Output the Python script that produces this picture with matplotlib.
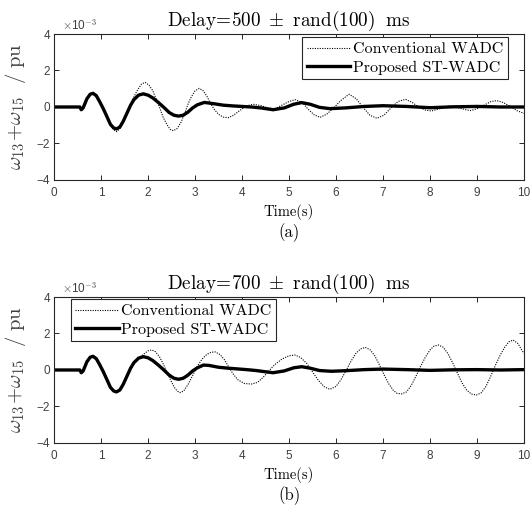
import matplotlib
matplotlib.use("Agg")
import matplotlib.pyplot as plt

plt.rcParams["mathtext.fontset"] = "cm"
plt.rcParams["font.family"] = ["Liberation Sans", "DejaVu Sans"]

# values, in units of 1e-3 pu
TIME_A_PROP = [0, 0.55, 0.58, 0.62, 0.7, 0.77, 0.83, 0.9, 0.97, 1.05, 1.13, 1.2, 1.27,
               1.33, 1.4, 1.47, 1.55, 1.63, 1.7, 1.8, 1.9, 2.0, 2.1, 2.22, 2.35, 2.45,
               2.55, 2.65, 2.75, 2.85, 2.95, 3.05, 3.2, 3.4, 3.6, 3.8, 4.0, 4.2, 4.4,
               4.66, 4.9, 5.1, 5.27, 5.45, 5.65, 5.87, 6.2, 6.6, 7.0, 7.5, 8.0, 8.5,
               9.0, 9.5, 10]
VALUE_A_PROP = [0, 0, -0.15, -0.05, 0.45, 0.7, 0.75, 0.62, 0.3, -0.1, -0.55, -0.95, -1.15,
                -1.2, -1.1, -0.8, -0.35, 0.1, 0.4, 0.65, 0.72, 0.65, 0.5, 0.25, -0.05, -0.3,
                -0.45, -0.5, -0.45, -0.28, -0.05, 0.12, 0.25, 0.18, 0.1, 0.06, 0.03, 0.0, -0.05,
                -0.15, -0.05, 0.15, 0.24, 0.15, -0.02, -0.09, -0.05, 0.03, 0.07, 0.03, -0.04, 0.01,
                0.03, 0.0, 0.0]

TIME_A_CONV = [0, 0.55, 0.58, 0.62, 0.7, 0.77, 0.83, 0.9, 0.97, 1.05, 1.13, 1.2, 1.27,
               1.33, 1.4, 1.47, 1.55, 1.63, 1.7, 1.78, 1.86, 1.94, 2.02, 2.1, 2.18, 2.25,
               2.32, 2.4, 2.47, 2.54, 2.62, 2.7, 2.78, 2.85, 2.92, 3.0, 3.09, 3.17, 3.25,
               3.33, 3.4, 3.5, 3.6, 3.71, 3.82, 3.95, 4.08, 4.24, 4.4, 4.55, 4.7, 4.85,
               5.0, 5.13, 5.28, 5.4, 5.53, 5.66, 5.8, 5.95, 6.1, 6.28, 6.43, 6.57, 6.72,
               6.87, 7.02, 7.17, 7.32, 7.48, 7.62, 7.76, 7.9, 8.03, 8.2, 8.4, 8.6, 8.85,
               9.0, 9.15, 9.3, 9.42, 9.55, 9.7, 9.85, 10]
VALUE_A_CONV = [0, 0, -0.15, -0.05, 0.45, 0.7, 0.75, 0.62, 0.3, -0.1, -0.6, -1.0, -1.25,
                -1.35, -1.2, -0.85, -0.35, 0.15, 0.55, 0.95, 1.25, 1.35, 1.2, 0.9, 0.4, -0.05,
                -0.55, -0.95, -1.22, -1.3, -1.18, -0.85, -0.35, 0.15, 0.55, 0.88, 1.02, 0.9, 0.6,
                0.2, -0.1, -0.4, -0.55, -0.59, -0.45, -0.2, 0.05, 0.15, 0.08, -0.05, -0.1, 0.1,
                0.3, 0.4, 0.25, -0.1, -0.42, -0.57, -0.4, -0.05, 0.35, 0.7, 0.45, 0.0, -0.45,
                -0.62, -0.45, -0.05, 0.3, 0.42, 0.25, 0.0, -0.17, -0.22, -0.1, 0.05, -0.05, -0.2,
                -0.1, 0.1, 0.3, 0.35, 0.25, 0.05, -0.2, -0.35]

TIME_B_PROP = [0, 0.55, 0.58, 0.62, 0.7, 0.77, 0.83, 0.9, 0.97, 1.05, 1.13, 1.2, 1.27,
               1.33, 1.4, 1.47, 1.55, 1.63, 1.7, 1.8, 1.9, 2.0, 2.1, 2.22, 2.35, 2.45,
               2.55, 2.65, 2.75, 2.85, 2.95, 3.05, 3.18, 3.3, 3.5, 3.7, 3.9, 4.1, 4.3,
               4.66, 4.9, 5.1, 5.27, 5.45, 5.65, 5.9, 6.2, 6.6, 7.0, 7.5, 8.0, 8.5,
               9.0, 9.5, 10]
VALUE_B_PROP = [0, 0, -0.15, -0.05, 0.45, 0.7, 0.75, 0.62, 0.3, -0.1, -0.55, -0.95, -1.15,
                -1.2, -1.1, -0.8, -0.35, 0.1, 0.4, 0.65, 0.73, 0.67, 0.52, 0.27, -0.03, -0.28,
                -0.45, -0.51, -0.45, -0.28, -0.05, 0.12, 0.27, 0.25, 0.15, 0.1, 0.06, 0.02, -0.03,
                -0.15, -0.05, 0.12, 0.18, 0.1, -0.03, -0.07, -0.04, 0.02, 0.05, 0.02, -0.02, 0.01,
                0.02, 0.0, 0.02]

TIME_B_CONV = [0, 0.55, 0.58, 0.62, 0.7, 0.77, 0.83, 0.9, 0.97, 1.05, 1.13, 1.2, 1.27,
               1.33, 1.4, 1.47, 1.55, 1.63, 1.7, 1.8, 1.9, 2.0, 2.08, 2.16, 2.25, 2.33,
               2.4, 2.48, 2.56, 2.62, 2.68, 2.76, 2.85, 2.95, 3.05, 3.15, 3.25, 3.34, 3.43,
               3.53, 3.63, 3.72, 3.82, 3.92, 4.05, 4.2, 4.33, 4.45, 4.57, 4.7, 4.85, 5.0,
               5.13, 5.25, 5.38, 5.5, 5.62, 5.75, 5.87, 6.0, 6.1, 6.2, 6.3, 6.42, 6.52,
               6.62, 6.72, 6.82, 6.92, 7.02, 7.12, 7.22, 7.3, 7.4, 7.5, 7.6, 7.7, 7.8,
               7.9, 8.0, 8.08, 8.18, 8.28, 8.38, 8.48, 8.58, 8.68, 8.78, 8.88, 8.99, 9.09,
               9.19, 9.29, 9.39, 9.49, 9.59, 9.68, 9.77, 9.87, 9.95, 10]
VALUE_B_CONV = [0, 0, -0.15, -0.05, 0.45, 0.7, 0.75, 0.62, 0.3, -0.1, -0.55, -0.95, -1.15,
                -1.2, -1.1, -0.8, -0.35, 0.1, 0.4, 0.65, 0.85, 1.05, 1.1, 1.0, 0.7, 0.3,
                -0.1, -0.55, -0.95, -1.15, -1.24, -1.15, -0.8, -0.3, 0.2, 0.6, 0.85, 0.97, 0.99,
                0.85, 0.55, 0.15, -0.25, -0.55, -0.74, -0.77, -0.68, -0.4, -0.05, 0.3, 0.6, 0.78,
                0.82, 0.68, 0.35, -0.1, -0.55, -0.92, -1.06, -0.9, -0.55, -0.1, 0.4, 0.9, 1.15,
                1.24, 1.12, 0.8, 0.3, -0.25, -0.75, -1.12, -1.28, -1.31, -1.2, -0.85, -0.35, 0.2,
                0.7, 1.1, 1.3, 1.37, 1.25, 0.9, 0.4, -0.15, -0.7, -1.1, -1.32, -1.37, -1.25,
                -0.9, -0.35, 0.25, 0.8, 1.25, 1.55, 1.64, 1.45, 1.1, 0.91]

PANELS = [
    ("500", "(a)", TIME_A_CONV, VALUE_A_CONV, TIME_A_PROP, VALUE_A_PROP,
     "upper right", (0.965, 0.977)),
    ("700", "(b)", TIME_B_CONV, VALUE_B_CONV, TIME_B_PROP, VALUE_B_PROP,
     "upper left", (0.0355, 0.984)),
]
X_TICKS = list(range(0, 11))
Y_TICKS = [-4, -2, 0, 2, 4]

SERIF = ["cmr10", "Liberation Serif", "DejaVu Serif"]
EDGE = "#262626"
TICK_TEXT = "#404040"

fig = plt.figure(figsize=(5.32, 5.09), dpi=100)
bottoms = [0.6464, 0.1297]

for (delay, tag, tc, vc, tp, vp, loc, anchor), bottom in zip(PANELS, bottoms):
    ax = fig.add_axes([0.1015, bottom, 0.8835, 0.2868])
    ax.plot(tc, vc, color="black", linestyle=(0, (1, 1.2)), linewidth=0.8,
            label="Conventional WADC")
    ax.plot(tp, vp, color="black", linewidth=2.4, label="Proposed ST-WADC")
    ax.set_xlim(0, 10)
    ax.set_ylim(-4, 4)
    ax.set_xticks(X_TICKS)
    ax.set_yticks(Y_TICKS)
    ax.tick_params(direction="in", top=True, right=True, length=3.6, width=0.7,
                   labelsize=8.5, colors=EDGE, labelcolor=TICK_TEXT)
    ax.tick_params(axis="x", pad=5)
    ax.tick_params(axis="y", pad=3)
    for spine in ax.spines.values():
        spine.set_linewidth(0.8)
        spine.set_color(EDGE)
    ax.text(0.018, 1.012, r"$\times$10$^{\mathsf{-3}}$", transform=ax.transAxes,
            fontsize=8.5, color=TICK_TEXT, ha="left", va="bottom")
    ax.set_title(r"$\mathrm{Delay\!=\!%s}\ \pm\ \mathrm{rand(100)\ \ ms}$" % delay,
                 fontsize=13.8, pad=6)
    ax.set_ylabel(r"$\omega_{13}\!+\!\omega_{15}\ \ /\ \mathrm{pu}$", fontsize=14.8,
                  color=TICK_TEXT, labelpad=6)
    ax.set_xlabel("Time(s)", family=SERIF, fontsize=10.5, color="black", labelpad=4)
    ax.text(0.5, -0.36, tag, transform=ax.transAxes, family=SERIF, fontsize=12,
            ha="center", va="center")
    leg = ax.legend(loc=loc, bbox_to_anchor=anchor, prop={"family": SERIF, "size": 11.5},
                    fancybox=False, framealpha=1, edgecolor=EDGE, handlelength=2.7,
                    borderpad=0.3, labelspacing=0.25, handletextpad=0.15,
                    borderaxespad=0)
    leg.get_frame().set_linewidth(0.8)

fig.savefig("out.png", dpi=100)
